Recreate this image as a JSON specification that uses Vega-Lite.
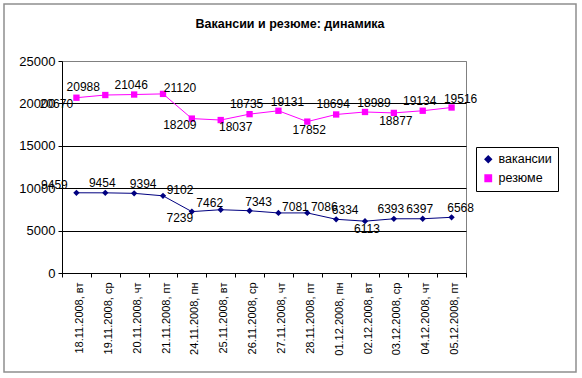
{
  "$schema": "https://vega.github.io/schema/vega-lite/v6.json",
  "width": 404,
  "height": 212,
  "autosize": {"type": "none"},
  "padding": {"left": 62, "top": 61, "right": 116, "bottom": 105},
  "background": "white",
  "config": {
    "font": "Liberation Sans",
    "view": {"stroke": "#808080", "strokeWidth": 1}
  },
  "title": {
    "text": "Вакансии и резюме: динамика",
    "fontSize": 12.5,
    "fontWeight": "bold",
    "color": "black",
    "font": "Liberation Sans",
    "anchor": "middle",
    "dx": 26,
    "offset": -26
  },
  "data": {
    "values": [
      {"date": "18.11.2008, вт", "series": "вакансии", "value": 9459},
      {"date": "19.11.2008, ср", "series": "вакансии", "value": 9454},
      {"date": "20.11.2008, чт", "series": "вакансии", "value": 9394},
      {"date": "21.11.2008, пт", "series": "вакансии", "value": 9102},
      {"date": "24.11.2008, пн", "series": "вакансии", "value": 7239},
      {"date": "25.11.2008, вт", "series": "вакансии", "value": 7462},
      {"date": "26.11.2008, ср", "series": "вакансии", "value": 7343},
      {"date": "27.11.2008, чт", "series": "вакансии", "value": 7081},
      {"date": "28.11.2008, пт", "series": "вакансии", "value": 7086},
      {"date": "01.12.2008, пн", "series": "вакансии", "value": 6334},
      {"date": "02.12.2008, вт", "series": "вакансии", "value": 6113},
      {"date": "03.12.2008, ср", "series": "вакансии", "value": 6393},
      {"date": "04.12.2008, чт", "series": "вакансии", "value": 6397},
      {"date": "05.12.2008, пт", "series": "вакансии", "value": 6568},
      {"date": "18.11.2008, вт", "series": "резюме", "value": 20670},
      {"date": "19.11.2008, ср", "series": "резюме", "value": 20988},
      {"date": "20.11.2008, чт", "series": "резюме", "value": 21046},
      {"date": "21.11.2008, пт", "series": "резюме", "value": 21120},
      {"date": "24.11.2008, пн", "series": "резюме", "value": 18209},
      {"date": "25.11.2008, вт", "series": "резюме", "value": 18037},
      {"date": "26.11.2008, ср", "series": "резюме", "value": 18735},
      {"date": "27.11.2008, чт", "series": "резюме", "value": 19131},
      {"date": "28.11.2008, пт", "series": "резюме", "value": 17852},
      {"date": "01.12.2008, пн", "series": "резюме", "value": 18694},
      {"date": "02.12.2008, вт", "series": "резюме", "value": 18989},
      {"date": "03.12.2008, ср", "series": "резюме", "value": 18877},
      {"date": "04.12.2008, чт", "series": "резюме", "value": 19134},
      {"date": "05.12.2008, пт", "series": "резюме", "value": 19516}
    ]
  },
  "encoding": {
    "x": {
      "field": "date",
      "type": "ordinal",
      "sort": null,
      "scale": {"type": "band", "paddingInner": 0, "paddingOuter": 0},
      "axis": {
        "title": null,
        "labelAngle": 270,
        "labelAlign": "right",
        "labelBaseline": "middle",
        "labelFontSize": 11,
        "labelColor": "black",
        "labelPadding": 5,
        "labelOffset": 3,
        "tickBand": "extent",
        "tickColor": "black",
        "tickSize": 4,
        "domainColor": "black",
        "grid": false
      }
    },
    "y": {
      "field": "value",
      "type": "quantitative",
      "scale": {"domain": [0, 25000], "nice": false},
      "axis": {
        "title": null,
        "values": [0, 5000, 10000, 15000, 20000, 25000],
        "format": "d",
        "labelFontSize": 13,
        "labelColor": "black",
        "labelPadding": 3,
        "tickColor": "black",
        "tickSize": 4,
        "domainColor": "black",
        "grid": true,
        "gridColor": {"condition": {"test": "datum.value == 25000", "value": "#808080"}, "value": "black"},
        "gridOpacity": 1
      }
    }
  },
  "layer": [
    {
      "mark": {"type": "point", "size": 0, "strokeOpacity": 0, "filled": true},
      "encoding": {
        "fill": {
          "field": "value",
          "type": "quantitative",
          "scale": {"range": ["transparent", "transparent"]},
          "legend": {
            "title": null,
            "orient": "none",
            "legendX": -58,
            "legendY": -57,
            "direction": "vertical",
            "padding": 0,
            "gradientLength": 368,
            "gradientThickness": 572,
            "gradientStrokeColor": "#606060",
            "gradientStrokeWidth": 1.5,
            "labelOpacity": 0,
            "labelExpr": "''"
          }
        }
      }
    },
    {
      "mark": {"type": "line", "strokeWidth": 1},
      "encoding": {
        "color": {
          "field": "series",
          "type": "nominal",
          "scale": {"domain": ["вакансии", "резюме"], "range": ["#000080", "#FF00FF"]},
          "legend": {
            "title": null,
            "orient": "none",
            "legendX": 414,
            "legendY": 86,
            "strokeColor": "black",
            "padding": 6,
            "labelFontSize": 12.5,
            "labelColor": "black",
            "symbolSize": 40,
            "rowPadding": 6
          }
        }
      }
    },
    {
      "mark": {"type": "point", "filled": true, "size": 40, "opacity": 1},
      "encoding": {
        "color": {
          "field": "series",
          "type": "nominal",
          "scale": {"domain": ["вакансии", "резюме"], "range": ["#000080", "#FF00FF"]},
          "legend": {
            "title": null,
            "orient": "none",
            "legendX": 414,
            "legendY": 86,
            "strokeColor": "black",
            "padding": 6,
            "labelFontSize": 12.5,
            "labelColor": "black",
            "symbolSize": 40,
            "rowPadding": 6
          }
        },
        "shape": {
          "field": "series",
          "type": "nominal",
          "scale": {"domain": ["вакансии", "резюме"], "range": ["diamond", "square"]},
          "legend": {
            "title": null,
            "orient": "none",
            "legendX": 414,
            "legendY": 86,
            "strokeColor": "black",
            "padding": 6,
            "labelFontSize": 12.5,
            "labelColor": "black",
            "symbolSize": 40,
            "rowPadding": 6
          }
        }
      }
    },
    {
      "transform": [{"filter": "indexof(['резюме|19.11.2008, ср', 'вакансии|18.11.2008, вт'], datum.series + '|' + datum.date) >= 0"}],
      "mark": {"type": "text", "fontSize": 12, "color": "black", "dx": -22, "dy": -8},
      "encoding": {"text": {"field": "value", "type": "quantitative", "format": "d"}}
    },
    {
      "transform": [{"filter": "indexof(['резюме|18.11.2008, вт'], datum.series + '|' + datum.date) >= 0"}],
      "mark": {"type": "text", "fontSize": 12, "color": "black", "dx": -20, "dy": 6},
      "encoding": {"text": {"field": "value", "type": "quantitative", "format": "d"}}
    },
    {
      "transform": [{"filter": "indexof(['резюме|20.11.2008, чт', 'резюме|26.11.2008, ср', 'резюме|01.12.2008, пн', 'резюме|04.12.2008, чт', 'вакансии|19.11.2008, ср', 'вакансии|03.12.2008, ср', 'вакансии|04.12.2008, чт'], datum.series + '|' + datum.date) >= 0"}],
      "mark": {"type": "text", "fontSize": 12, "color": "black", "dx": -3, "dy": -10},
      "encoding": {"text": {"field": "value", "type": "quantitative", "format": "d"}}
    },
    {
      "transform": [{"filter": "indexof(['резюме|27.11.2008, чт', 'резюме|02.12.2008, вт', 'резюме|05.12.2008, пт', 'вакансии|20.11.2008, чт', 'вакансии|26.11.2008, ср', 'вакансии|01.12.2008, пн', 'вакансии|05.12.2008, пт'], datum.series + '|' + datum.date) >= 0"}],
      "mark": {"type": "text", "fontSize": 12, "color": "black", "dx": 9, "dy": -9},
      "encoding": {"text": {"field": "value", "type": "quantitative", "format": "d"}}
    },
    {
      "transform": [{"filter": "indexof(['резюме|21.11.2008, пт', 'вакансии|21.11.2008, пт', 'вакансии|27.11.2008, чт', 'вакансии|28.11.2008, пт'], datum.series + '|' + datum.date) >= 0"}],
      "mark": {"type": "text", "fontSize": 12, "color": "black", "dx": 17, "dy": -6},
      "encoding": {"text": {"field": "value", "type": "quantitative", "format": "d"}}
    },
    {
      "transform": [{"filter": "indexof(['вакансии|25.11.2008, вт'], datum.series + '|' + datum.date) >= 0"}],
      "mark": {"type": "text", "fontSize": 12, "color": "black", "dx": -11, "dy": -7},
      "encoding": {"text": {"field": "value", "type": "quantitative", "format": "d"}}
    },
    {
      "transform": [{"filter": "indexof(['резюме|24.11.2008, пн', 'вакансии|24.11.2008, пн'], datum.series + '|' + datum.date) >= 0"}],
      "mark": {"type": "text", "fontSize": 12, "color": "black", "dx": -12, "dy": 6},
      "encoding": {"text": {"field": "value", "type": "quantitative", "format": "d"}}
    },
    {
      "transform": [{"filter": "indexof(['резюме|25.11.2008, вт'], datum.series + '|' + datum.date) >= 0"}],
      "mark": {"type": "text", "fontSize": 12, "color": "black", "dx": 15, "dy": 7},
      "encoding": {"text": {"field": "value", "type": "quantitative", "format": "d"}}
    },
    {
      "transform": [{"filter": "indexof(['резюме|28.11.2008, пт', 'резюме|03.12.2008, ср', 'вакансии|02.12.2008, вт'], datum.series + '|' + datum.date) >= 0"}],
      "mark": {"type": "text", "fontSize": 12, "color": "black", "dx": 2, "dy": 8},
      "encoding": {"text": {"field": "value", "type": "quantitative", "format": "d"}}
    }
  ]
}
